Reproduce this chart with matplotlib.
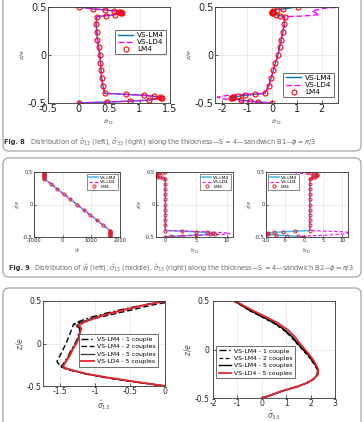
import matplotlib
matplotlib.use("Agg")
import matplotlib.pyplot as plt
from matplotlib.patches import FancyBboxPatch
from matplotlib.transforms import IdentityTransform

W, H = 364, 422

# ---------------- Fig. 8 data (sandwich B1) ----------------
z8 = [0.5, 0.48, 0.47, 0.46, 0.45, 0.445, 0.44, 0.435, 0.42, 0.41, 0.40,
      0.32, 0.24, 0.16, 0.08, 0.0, -0.08, -0.16, -0.24, -0.32, -0.40,
      -0.41, -0.42, -0.43, -0.44, -0.445, -0.45, -0.47, -0.48, -0.49, -0.5]
s13_8 = [0, 0.24, 0.44, 0.58, 0.66, 0.70, 0.72, 0.70, 0.60, 0.45, 0.30,
         0.29, 0.30, 0.31, 0.33, 0.35, 0.36, 0.37, 0.38, 0.40, 0.43,
         0.78, 1.07, 1.24, 1.34, 1.37, 1.35, 1.15, 0.85, 0.47, 0]
s33_8 = [1.03, 0.43, 0.19, 0.03, 0.0, -0.02, 0.0, 0.05, 0.16, 0.30, 0.50,
         0.49, 0.43, 0.36, 0.30, 0.23, 0.13, 0.05, -0.04, -0.13, -0.30,
         -0.70, -1.10, -1.37, -1.57, -1.66, -1.62, -1.24, -0.90, -0.57, 0]
z8_ld = [0.5, 0.49, 0.46, 0.42, 0.405, 0.40,
         0.32, 0.24, 0.16, 0.08, 0.0, -0.08, -0.16, -0.24, -0.32, -0.40,
         -0.41, -0.42, -0.44, -0.46, -0.48, -0.5]
s33_8_ld = [2.9, 2.2, 1.6, 1.9, 1.2, 0.5,
            0.49, 0.43, 0.36, 0.30, 0.23, 0.13, 0.05, -0.04, -0.13, -0.30,
            -1.0, -1.8, -2.2, -1.9, -1.2, 0]

# ---------------- Fig. 9 data (sandwich B2) ----------------
z9 = [0.5, 0.49, 0.48, 0.47, 0.46, 0.45, 0.44, 0.43, 0.42, 0.41, 0.40,
      0.32, 0.24, 0.16, 0.08, 0.0, -0.08, -0.16, -0.24, -0.32, -0.40,
      -0.41, -0.42, -0.43, -0.44, -0.45, -0.46, -0.47, -0.48, -0.49, -0.5]
w9 = [-640, -642, -644, -646, -647, -648, -649, -650, -650, -650, -650,
      -420, -190, 40, 270, 500, 730, 960, 1190, 1420, 1650,
      1650, 1651, 1652, 1653, 1654, 1655, 1656, 1657, 1658, 1660]
s13_9 = [0, -0.5, -1.0, -1.3, -1.5, -1.6, -1.5, -1.3, -0.9, -0.4, 0,
         0, 0, 0, 0, 0, 0, 0, 0, 0, 0,
         2.8, 5.0, 6.8, 7.8, 8.0, 7.2, 5.0, 2.8, 1.0, 0]
s13_9_ld = [0, -0.8, -1.5, -1.9, -2.1, -2.2, -2.0, -1.6, -1.1, -0.5, 0,
            0, 0, 0, 0, 0, 0, 0, 0, 0, 0,
            3.5, 6.5, 9.0, 10.3, 10.5, 9.5, 6.5, 3.5, 1.2, 0]
s33_9 = [1.0, 1.8, 2.5, 3.0, 3.3, 3.4, 3.2, 2.8, 2.3, 1.9, 1.5,
         1.5, 1.5, 1.5, 1.5, 1.5, 1.5, 1.5, 1.5, 1.5, 1.5,
         -2.5, -5.5, -8.0, -9.5, -10.0, -9.5, -7.5, -4.5, -1.5, 0]
s33_9_ld = [-4.0, -2.5, -1.0, 0.5, 1.5, 2.2, 2.4, 2.3, 2.0, 1.7, 1.5,
            1.5, 1.5, 1.5, 1.5, 1.5, 1.5, 1.5, 1.5, 1.5, 1.5,
            6.0, 10.0, 12.0, 12.0, 11.0, 9.0, 6.0, 2.0, -1.0, 0]

# ---------------- Fig. 10 data ----------------
z10 = [0.5, 0.45, 0.4, 0.35, 0.3, 0.26, 0.23, 0.21, 0.19, 0.17, 0.12, 0.05, 0.0,
       -0.05, -0.1, -0.15, -0.2, -0.24, -0.27, -0.29, -0.32, -0.36, -0.4, -0.45, -0.5]
s13_ld5 = [0, -0.3, -0.56, -0.8, -1.0, -1.13, -1.2, -1.24, -1.21, -1.2, -1.22, -1.24, -1.27,
           -1.31, -1.34, -1.37, -1.41, -1.44, -1.46, -1.42, -1.3, -1.1, -0.82, -0.42, 0]
s13_lm5 = [0, -0.31, -0.58, -0.83, -1.04, -1.17, -1.24, -1.27, -1.22, -1.21, -1.23, -1.25, -1.28,
           -1.32, -1.35, -1.38, -1.42, -1.45, -1.48, -1.44, -1.32, -1.12, -0.84, -0.44, 0]
s13_lm1 = [0, -0.33, -0.62, -0.88, -1.1, -1.23, -1.29, -1.3, -1.24, -1.22, -1.24, -1.26, -1.29,
           -1.33, -1.36, -1.39, -1.43, -1.46, -1.49, -1.45, -1.33, -1.13, -0.85, -0.45, 0]
z10_2 = [0.48, 0.45, 0.4, 0.35, 0.3, 0.26, 0.23, 0.1, 0.0, -0.1, -0.21, -0.27, -0.3,
         -0.35, -0.4, -0.45, -0.5]
s13_lm2 = [0, -0.2, -0.45, -0.72, -0.98, -1.15, -1.31, -1.37, -1.42, -1.48, -1.55, -1.5, -1.42,
           -1.18, -0.86, -0.46, 0]

z10r = [0.5, 0.45, 0.4, 0.34, 0.27, 0.2, 0.13, 0.05, -0.02, -0.09, -0.16, -0.21, -0.26,
        -0.31, -0.35, -0.38, -0.43, -0.48, -0.5]
s33_ld5 = [-1.08, -0.72, -0.35, 0.14, 0.68, 1.08, 1.35, 1.6, 1.84, 2.06, 2.23, 2.32, 2.3,
           2.1, 1.8, 1.49, 0.81, 0.27, 0]
s33_lm5 = [-1.1, -0.78, -0.45, 0.02, 0.55, 0.95, 1.25, 1.52, 1.78, 2.01, 2.2, 2.3, 2.29,
           2.1, 1.8, 1.49, 0.81, 0.27, 0]
s33_lm2 = [-1.15, -0.82, -0.5, -0.04, 0.5, 0.9, 1.2, 1.47, 1.73, 1.97, 2.17, 2.27, 2.27,
           2.08, 1.79, 1.48, 0.8, 0.27, 0]
s33_lm1 = [-1.12, -0.8, -0.48, -0.01, 0.52, 0.92, 1.22, 1.5, 1.76, 1.99, 2.18, 2.28, 2.28,
           2.09, 1.8, 1.49, 0.81, 0.27, 0]

fig = plt.figure(figsize=(W / 100, H / 100), dpi=100)


def box(y_top, y_bot):
    p = FancyBboxPatch((3, H - y_bot), 358, y_bot - y_top,
                       boxstyle="round,pad=0,rounding_size=6",
                       transform=IdentityTransform(), fill=False,
                       edgecolor="#9a9a9a", linewidth=0.8)
    fig.patches.append(p)


def make_axes(x0, x1, y0, y1):
    return fig.add_axes([x0 / W, 1 - y1 / H, (x1 - x0) / W, (y1 - y0) / H])


def style(ax, fs, xlim, xticks, ylab, xlab, lfs, xpad=2):
    ax.set_xlim(xlim)
    ax.set_ylim(-0.5, 0.5)
    ax.set_xticks(xticks)
    ax.set_yticks([-0.5, 0, 0.5])
    ax.set_yticklabels(["-0.5", "0", "0.5"])
    ax.tick_params(direction="in", labelsize=fs, length=2, width=0.5, pad=1,
                   colors="#222222")
    ax.grid(True, color="#e3e3e3", linewidth=0.5)
    ax.set_axisbelow(True)
    for s in ax.spines.values():
        s.set_linewidth(0.6)
        s.set_color("#333333")
    ax.set_ylabel(ylab, fontsize=lfs, color="#555555", labelpad=1)
    ax.set_xlabel(xlab, fontsize=lfs, color="#555555", labelpad=xpad)


box(-20, 151)
box(158, 277)
box(288, 440)

# Fig. 8
a = make_axes(48, 170, 7, 103)
a.plot(s13_8, z8, color="#0072BD", lw=1.0, label="VS-LM4")
a.plot(s13_8, z8, color="#FF00FF", lw=1.0, ls=(0, (4, 2)), label="VS-LD4")
a.plot(s13_8, z8, "o", mfc="none", mec="red", ms=3.6, mew=0.8, label="LM4")
style(a, 7, (-0.5, 1.5), [-0.5, 0, 0.5, 1, 1.5], "$z/e$", r"$\hat{\sigma}_{13}$", 4.5)
a.set_xticklabels(["-0.5", "0", "0.5", "1", "1.5"])
a.legend(loc="upper right", bbox_to_anchor=(1.0, 0.8), fontsize=5.2, handlelength=2.2,
         borderpad=0.3, labelspacing=0.15, handletextpad=0.5, fancybox=False,
         edgecolor="#333333", framealpha=1).get_frame().set_linewidth(0.5)

a = make_axes(215, 338, 7, 103)
a.plot(s33_8, z8, color="#0072BD", lw=1.0, label="VS-LM4")
a.plot(s33_8_ld, z8_ld, color="#FF00FF", lw=1.0, ls=(0, (4, 2)), label="VS-LD4")
a.plot(s33_8, z8, "o", mfc="none", mec="red", ms=3.6, mew=0.8, label="LM4")
style(a, 7, (-2.3, 2.65), [-2, -1, 0, 1, 2], "$z/e$", r"$\hat{\sigma}_{33}$", 4.5)
a.set_xticklabels(["-2", "-1", "0", "1", "2"])
a.legend(loc="lower right", bbox_to_anchor=(1.0, 0.02), fontsize=5.2, handlelength=2.2,
         borderpad=0.3, labelspacing=0.15, handletextpad=0.5, fancybox=False,
         edgecolor="#333333", framealpha=1).get_frame().set_linewidth(0.5)

fig.text(4 / W, 1 - 142 / H, "Fig. 8", fontsize=4.8, fontweight="bold", color="#333333",
         va="center")
fig.text(30 / W, 1 - 142 / H,
         r"Distribution of $\hat{\sigma}_{13}$ (left), $\hat{\sigma}_{33}$ (right) along the "
         r"thickness—S = 4—sandwich B1—$\phi = \pi/3$",
         fontsize=4.8, color="#666666", va="center")

# Fig. 9
leg9 = dict(fontsize=3.2, handlelength=2.2, borderpad=0.3, labelspacing=0.1,
            handletextpad=0.4, fancybox=False, edgecolor="#333333", framealpha=1)
panels9 = [
    (34, 120, w9, w9, (-1000, 2000), [-1000, 0, 1000, 2000], r"$\hat{w}$", "upper right"),
    (156, 233, s13_9, s13_9_ld, (-1.5, 11), [0, 5, 10], r"$\hat{\sigma}_{13}$", "upper right"),
    (266, 348, s33_9, s33_9_ld, (-10, 11.5), [-10, -5, 0, 5, 10], r"$\hat{\sigma}_{33}$", "upper left"),
]
for x0, x1, xm, xl, lim, ticks, lab, loc in panels9:
    a = make_axes(x0, x1, 172, 237)
    a.plot(xm, z9, color="#4DBEEE", lw=1.2, label="VS-LM4")
    a.plot(xl, z9, color="#FF00FF", lw=0.8, ls=(0, (3, 2)), label="VS-LD4")
    a.plot(xm, z9, "o", mfc="none", mec="#e0202a", ms=2.2, mew=0.7, label="LM4")
    style(a, 3.6, lim, ticks, "$z/e$", lab, 3.6)
    a.set_xticklabels([str(t) for t in ticks])
    a.tick_params(length=1.5)
    a.legend(loc=loc, **leg9).get_frame().set_linewidth(0.4)

fig.text(9 / W, 1 - 268 / H, "Fig. 9", fontsize=4.8, fontweight="bold", color="#333333",
         va="center")
fig.text(34 / W, 1 - 268 / H,
         r"Distribution of $\hat{w}$ (left), $\hat{\sigma}_{13}$ (middle), $\hat{\sigma}_{33}$ "
         r"(right) along the thickness—S = 4—sandwich B2—$\phi = \pi/3$",
         fontsize=4.7, color="#666666", va="center")

# Fig. 10
leg10 = dict(fontsize=4.4, handlelength=2.0, borderpad=0.4, labelspacing=0.35,
             handletextpad=0.6, fancybox=False, edgecolor="#333333", framealpha=1)
a = make_axes(43, 165, 301, 386)
a.plot(s13_lm1, z10, color="black", lw=1.0, ls=(0, (5, 2, 1, 2)), label="VS-LM4 - 1 couple")
a.plot(s13_lm2, z10_2, color="black", lw=1.0, ls=(0, (4, 2)), label="VS-LM4 - 2 couples")
a.plot(s13_lm5, z10, color="#333333", lw=0.9, label="VS-LM4 - 5 couples")
a.plot(s13_ld5, z10, color="#e8242c", lw=1.3, label="VS-LD4 - 5 couples")
style(a, 5.5, (-1.75, 0), [-1.5, -1, -0.5, 0], "$z/e$", r"$\hat{\sigma}_{13}$", 5.5, xpad=1)
a.set_xticklabels(["-1.5", "-1", "-0.5", "0"])
a.legend(loc="center right", bbox_to_anchor=(0.97, 0.42), **leg10).get_frame().set_linewidth(0.5)

a = make_axes(213, 335, 301, 398)
a.plot(s33_lm1, z10r, color="black", lw=1.0, ls=(0, (5, 2, 1, 2)), label="VS-LM4 - 1 couple")
a.plot(s33_lm2, z10r, color="black", lw=0.9, ls=(0, (3, 2)), label="VS-LM4 - 2 couples")
a.plot(s33_lm5, z10r, color="black", lw=1.0, label="VS-LM4 - 5 couples")
a.plot(s33_ld5, z10r, color="#e8242c", lw=1.3, label="VS-LD4 - 5 couples")
style(a, 5.5, (-2, 3), [-2, -1, 0, 1, 2, 3], "$z/e$", r"$\hat{\sigma}_{33}$", 5.5, xpad=0)
a.set_xticklabels(["-2", "-1", "0", "1", "2", "3"])
a.tick_params(axis="y", pad=2.5)
a.legend(loc="center left", bbox_to_anchor=(0.0, 0.37), **leg10).get_frame().set_linewidth(0.5)

fig.savefig("out.png", dpi=100)
